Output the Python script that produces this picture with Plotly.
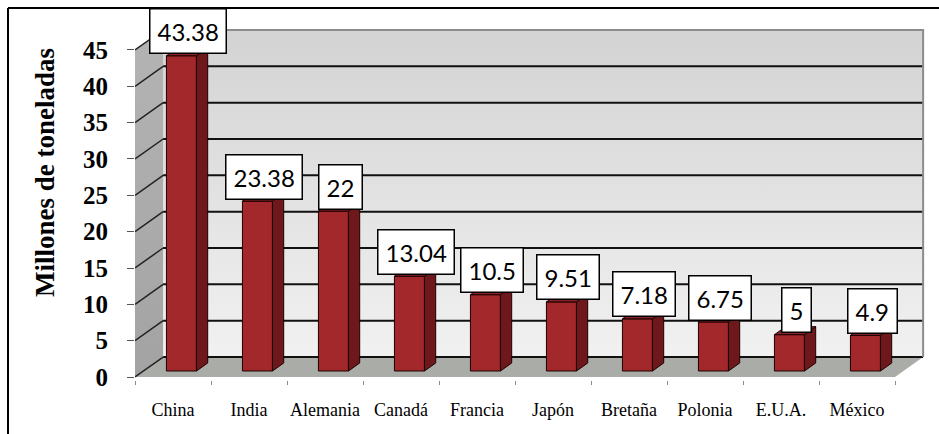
import plotly.graph_objects as go

# --- data ---------------------------------------------------------------
countries = ["China", "India", "Alemania", "Canadá", "Francia",
             "Japón", "Bretaña", "Polonia", "E.U.A.", "México"]
values = [43.38, 23.38, 22, 13.04, 10.5, 9.51, 7.18, 6.75, 5, 4.9]
y_ticks = [0, 5, 10, 15, 20, 25, 30, 35, 40, 45]
y_title = "Millones de toneladas"

# --- geometry of the pseudo-3D box (in axis units) ----------------------
W, H = 939, 434
ML, MR, MT, MB = 135, 9, 12, 54
PX_PER_CAT = 76.0          # pixels per category
PX_PER_UNIT = 7.267        # pixels per value unit
DX, DY = 0.37, 2.75        # depth shift of the back wall
BW = 0.395                 # bar width
FD, BD = 0.30, 0.40        # bar front depth fraction, bar thickness fraction
FX, FY = FD * DX, FD * DY
BDX, BDY = BD * DX, BD * DY

n = len(countries)
x_lo = -0.5
x_hi = x_lo + (W - ML - MR) / PX_PER_CAT
y_lo = -3 / PX_PER_UNIT
y_hi = y_lo + (H - MT - MB) / PX_PER_UNIT
x0, x1 = -0.5, n - 0.5
y_top = max(y_ticks)

fig = go.Figure()

# back wall with vertical gradient
fig.add_trace(go.Scatter(
    x=[x0 + DX, x1 + DX, x1 + DX, x0 + DX, x0 + DX],
    y=[DY, DY, y_top + DY, y_top + DY, DY],
    mode="lines", line=dict(width=0), fill="toself",
    fillgradient=dict(type="vertical",
                      colorscale=[[0, "#F1F1F1"], [1, "#D3D3D3"]]),
    hoverinfo="skip", showlegend=False))

# left side wall
fig.add_trace(go.Scatter(
    x=[x0, x0 + DX, x0 + DX, x0, x0],
    y=[0, DY, y_top + DY, y_top, 0],
    mode="lines", line=dict(width=0), fill="toself",
    fillgradient=dict(type="vertical",
                      colorscale=[[0, "#A3A3A3"], [1, "#B4B4B4"]]),
    hoverinfo="skip", showlegend=False))

# floor
fig.add_trace(go.Scatter(
    x=[x0, x1, x1 + DX, x0 + DX, x0],
    y=[0, 0, DY, DY, 0],
    mode="lines", line=dict(width=0), fill="toself",
    fillcolor="#A9ACA7", hoverinfo="skip", showlegend=False))

# gridlines on back wall and depth lines on side wall
gx, gy, dx_, dy_ = [], [], [], []
for v in y_ticks[:-1]:
    gx += [x0 + DX, x1 + DX, None]
    gy += [v + DY, v + DY, None]
for v in y_ticks:
    dx_ += [x0, x0 + DX, None]
    dy_ += [v, v + DY, None]
fig.add_trace(go.Scatter(x=gx, y=gy, mode="lines",
                         line=dict(color="#111111", width=2),
                         hoverinfo="skip", showlegend=False))
fig.add_trace(go.Scatter(x=dx_, y=dy_, mode="lines",
                         line=dict(color="#222222", width=1.5),
                         hoverinfo="skip", showlegend=False))
# top and right edges of the back wall
fig.add_trace(go.Scatter(
    x=[x0 + DX, x1 + DX, x1 + DX], y=[y_top + DY, y_top + DY, DY],
    mode="lines", line=dict(color="#8C8C8C", width=2),
    hoverinfo="skip", showlegend=False))

# --- bars (overlay axes so they sit above the walls) --------------------
idx = list(range(n))
fig.add_trace(go.Bar(
    x=idx, y=values, base=FY, width=BW, offset=-BW / 2 + FX,
    marker=dict(color="#A3282C", line=dict(color="#1A0000", width=1)),
    xaxis="x2", yaxis="y2", hoverinfo="skip", showlegend=False))

sx, sy, tx, ty = [], [], [], []
for i, v in zip(idx, values):
    left = i - BW / 2 + FX
    right = i + BW / 2 + FX
    sx += [right, right + BDX, right + BDX, right, right, None]
    sy += [FY, FY + BDY, FY + v + BDY, FY + v, FY, None]
    tx += [left, right, right + BDX, left + BDX, left, None]
    ty += [FY + v, FY + v, FY + v + BDY, FY + v + BDY, FY + v, None]

fig.add_trace(go.Scatter(x=sx, y=sy, mode="lines", fill="toself",
                         fillcolor="#6E181B",
                         line=dict(color="#1A0000", width=1),
                         xaxis="x2", yaxis="y2",
                         hoverinfo="skip", showlegend=False))
fig.add_trace(go.Scatter(x=tx, y=ty, mode="lines", fill="toself",
                         fillcolor="#8A2226",
                         line=dict(color="#1A0000", width=1),
                         xaxis="x2", yaxis="y2",
                         hoverinfo="skip", showlegend=False))

# value labels
for i, v in zip(idx, values):
    fig.add_annotation(
        x=i + 0.2, y=v + FY + 0.2, xref="x2", yref="y2",
        text=f"{v:g}", showarrow=False, yanchor="bottom",
        font=dict(family="Lato", size=24, color="black"),
        bgcolor="white", bordercolor="black", borderwidth=1.5, borderpad=7)

# axis title
fig.add_annotation(
    x=(28 - ML) / (W - ML - MR), y=(H - MB - 173) / (H - MT - MB),
    xref="paper", yref="paper", text=f"<b>{y_title}</b>",
    textangle=-90, showarrow=False,
    font=dict(family="Liberation Serif", size=27, color="black"))

# outer frame (left and top edges)
fl = (8 - ML) / (W - ML - MR)
fr = (W - ML) / (W - ML - MR)
ft = (H - MB - 8) / (H - MT - MB)
fb = -MB / (H - MT - MB)
fig.add_shape(type="line", xref="paper", yref="paper",
              x0=fl, x1=fl, y0=fb, y1=ft, line=dict(color="black", width=2))
fig.add_shape(type="line", xref="paper", yref="paper",
              x0=fl, x1=fr, y0=ft, y1=ft, line=dict(color="black", width=2))

fig.update_layout(
    width=W, height=H,
    margin=dict(l=ML, r=MR, t=MT, b=MB, pad=0),
    paper_bgcolor="white", plot_bgcolor="white",
    xaxis=dict(range=[x_lo, x_hi], tickvals=idx, ticktext=countries,
               ticks="", showgrid=False, zeroline=False, showline=False,
               tickfont=dict(family="Liberation Serif", size=18, color="black"),
               ticklabelstandoff=17,
               minor=dict(tick0=-0.5, dtick=1, ticks="outside", ticklen=4,
                          tickcolor="#8C8C8C", tickwidth=1)),
    yaxis=dict(range=[y_lo, y_hi], tickvals=y_ticks,
               ticks="outside", ticklen=7, tickcolor="#555555", tickwidth=1,
               showgrid=False, zeroline=False, showline=False,
               ticklabelstandoff=14,
               tickfont=dict(family="Liberation Serif", size=25, color="black",
                             weight="bold")),
    xaxis2=dict(range=[x_lo, x_hi], overlaying="x", anchor="y2",
                visible=False),
    yaxis2=dict(range=[y_lo, y_hi], overlaying="y", anchor="x2",
                visible=False),
)

fig.write_html("out.html")
